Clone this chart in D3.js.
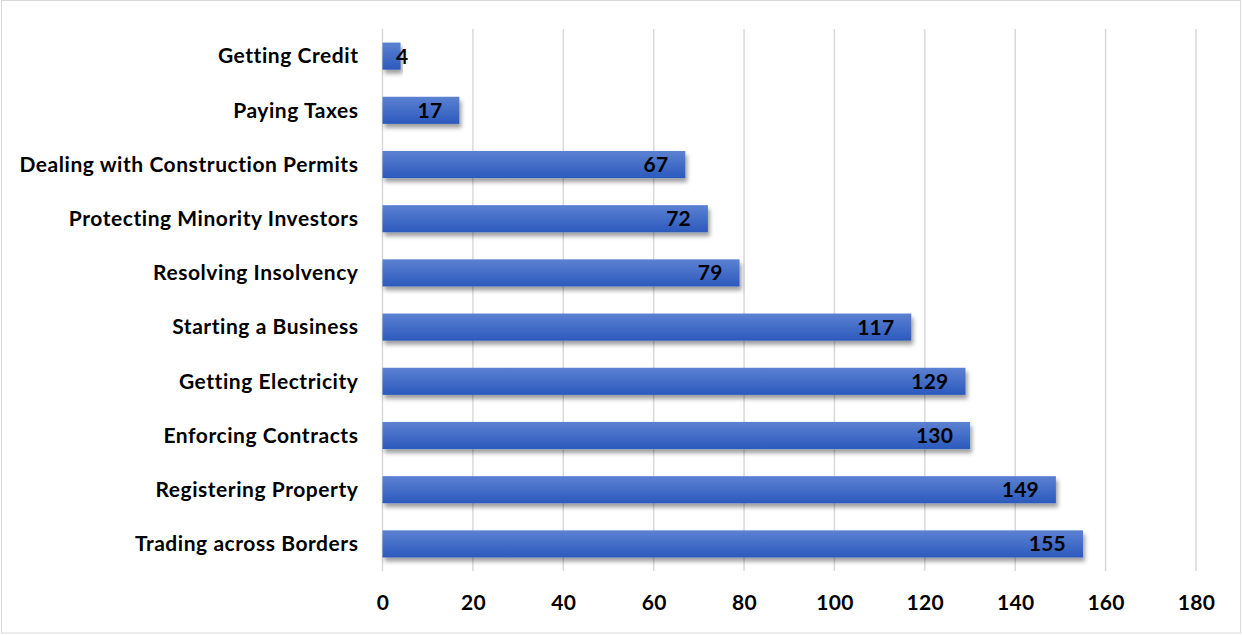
<!DOCTYPE html>
<html>
<head>
<meta charset="utf-8">
<script src="https://cdn.jsdelivr.net/npm/d3@7"></script>
<style>
  html, body { margin: 0; padding: 0; background: #fff; }
  svg { display: block; }
  text { font-family: Lato, "Open Sans", "Liberation Sans", sans-serif; font-weight: 700; fill: #000; }
</style>
</head>
<body>
<svg id="chart" width="1242" height="635"></svg>
<script>
// Indicator categories (top to bottom) and their rank values
const categories = [
  "Getting Credit",
  "Paying Taxes",
  "Dealing with Construction Permits",
  "Protecting Minority Investors",
  "Resolving Insolvency",
  "Starting a Business",
  "Getting Electricity",
  "Enforcing Contracts",
  "Registering Property",
  "Trading across Borders"
];
const values = [4, 17, 67, 72, 79, 117, 129, 130, 149, 155];
const xTicks = [0, 20, 40, 60, 80, 100, 120, 140, 160, 180];

const W = 1242, H = 635;
const margin = { left: 382.5, right: 46, top: 29, bottom: 64 };

const svg = d3.select("#chart");

// Outer chart border
svg.append("rect")
  .attr("x", 1.5).attr("y", 0.5)
  .attr("width", W - 3).attr("height", H - 2.5)
  .attr("fill", "#fff").attr("stroke", "#d9d9d9").attr("stroke-width", 1);

const defs = svg.append("defs");
const grad = defs.append("linearGradient")
  .attr("id", "barGrad").attr("x1", 0).attr("y1", 0).attr("x2", 0).attr("y2", 1);
grad.append("stop").attr("offset", "0%").attr("stop-color", "#5c81d2");
grad.append("stop").attr("offset", "100%").attr("stop-color", "#2b5abd");

const shadow = defs.append("filter").attr("id", "barShadow")
  .attr("x", "-5%").attr("y", "-30%").attr("width", "115%").attr("height", "180%");
shadow.append("feDropShadow")
  .attr("dx", 2).attr("dy", 4).attr("stdDeviation", 2.2)
  .attr("flood-color", "#000").attr("flood-opacity", 0.38);

const x = d3.scaleLinear().domain([0, 180]).range([margin.left, W - margin.right]);
const y = d3.scaleBand().domain(categories)
  .range([margin.top, H - margin.bottom]).paddingInner(0.5).paddingOuter(0.25);

// Vertical gridlines
svg.append("g")
  .selectAll("line").data(xTicks).join("line")
  .attr("x1", d => x(d)).attr("x2", d => x(d))
  .attr("y1", margin.top).attr("y2", H - margin.bottom)
  .attr("stroke", "#d9d9d9").attr("stroke-width", 1.5);

const font = "Lato, 'Open Sans', sans-serif";

// X axis tick labels
const xAxis = d3.axisBottom(x).tickValues(xTicks).tickSize(0).tickPadding(0);
const gx = svg.append("g").attr("transform", `translate(0, ${H - margin.bottom})`).call(xAxis);
gx.select(".domain").remove();
gx.selectAll("text")
  .attr("dy", null).attr("y", 39)
  .style("font-size", "21px").style("font-family", font).style("font-weight", 700)
  .style("letter-spacing", "0.3px");

// Category labels
const yAxis = d3.axisLeft(y).tickSize(0).tickPadding(0);
const gy = svg.append("g").attr("transform", `translate(${margin.left - 24}, 0)`).call(yAxis);
gy.select(".domain").remove();
gy.selectAll("text")
  .attr("dy", "0.35em")
  .style("font-size", "21px").style("font-family", font).style("font-weight", 700)
  .style("letter-spacing", "0.55px");

// Bars
svg.append("g")
  .selectAll("rect").data(categories).join("rect")
  .attr("x", x(0))
  .attr("y", d => y(d))
  .attr("width", (d, i) => x(values[i]) - x(0))
  .attr("height", y.bandwidth())
  .attr("fill", "url(#barGrad)")
  .attr("filter", "url(#barShadow)");

// Value labels at the inside end of each bar
svg.append("g")
  .selectAll("text").data(categories).join("text")
  .attr("x", (d, i) => Math.max(x(values[i]) - 17, x(0) + 26))
  .attr("y", d => y(d) + y.bandwidth() / 2)
  .attr("dy", "0.36em")
  .attr("text-anchor", "end")
  .style("font-size", "21px")
  .style("letter-spacing", "0.2px")
  .text((d, i) => values[i]);
</script>
</body>
</html>
